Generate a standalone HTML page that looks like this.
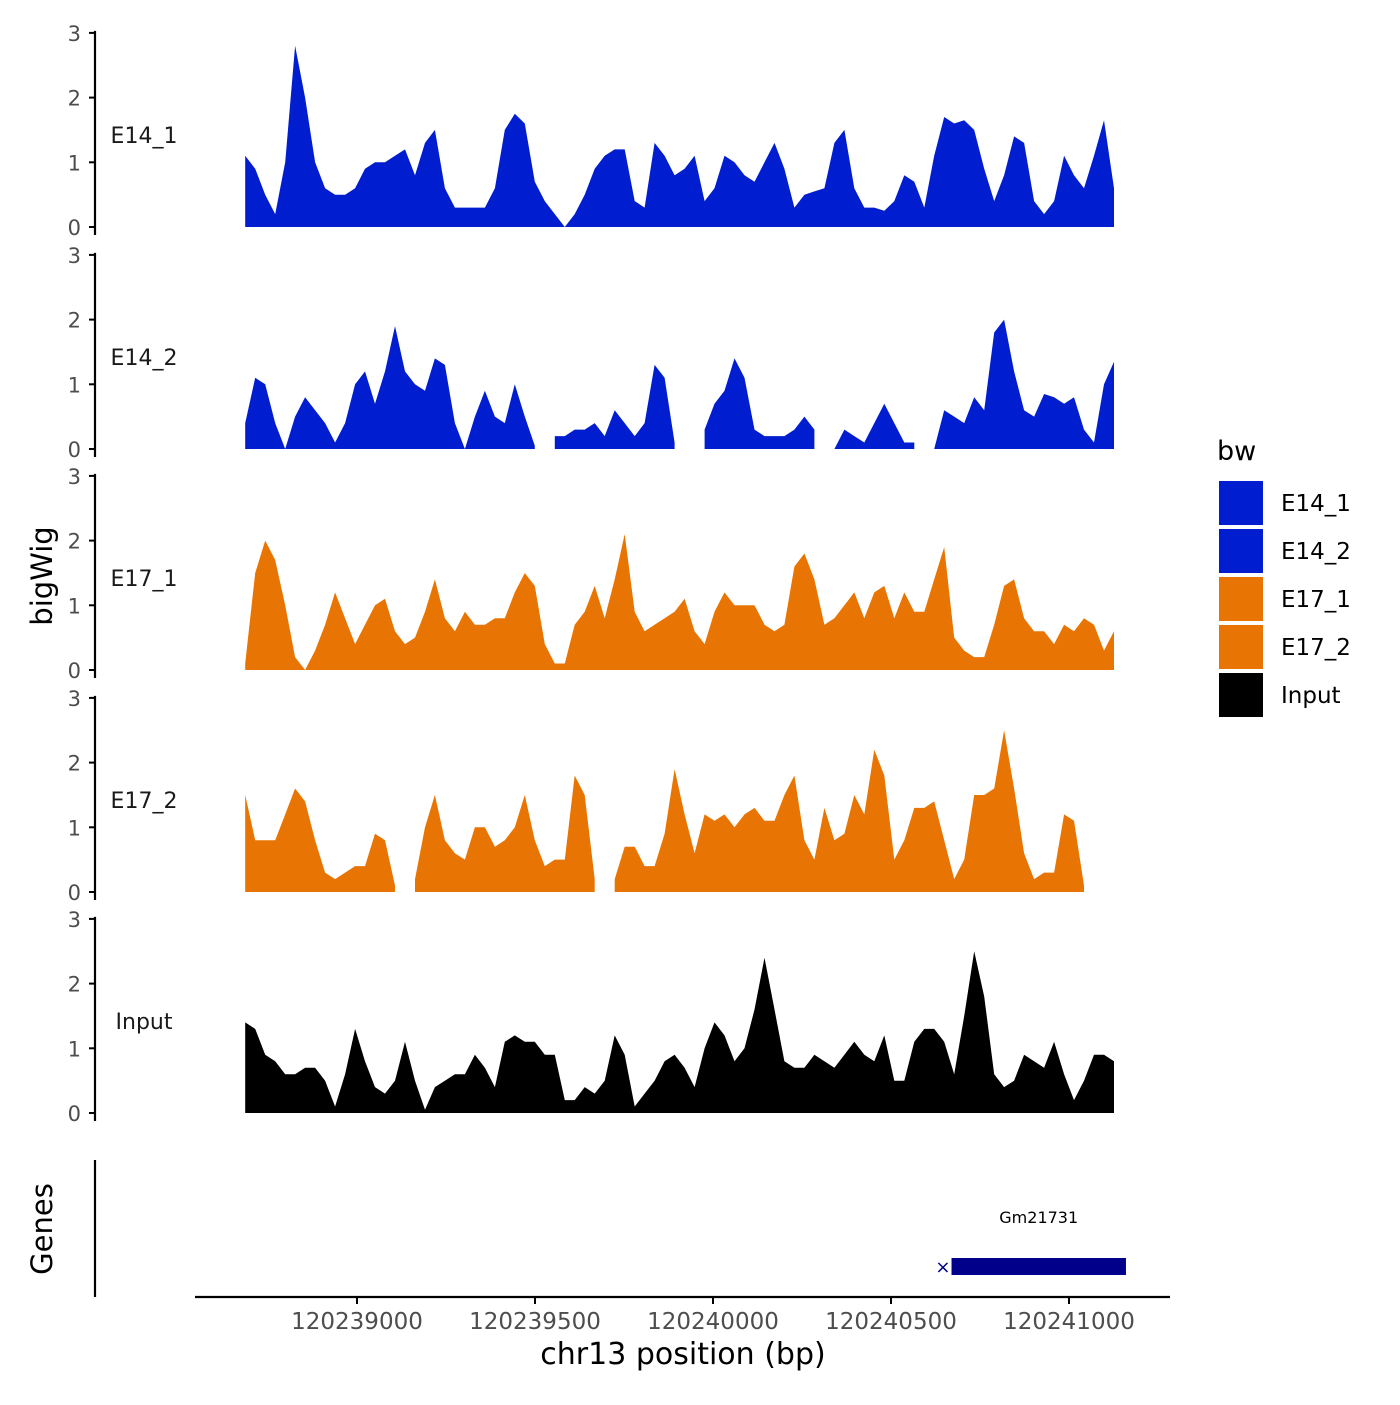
<!DOCTYPE html>
<html><head><meta charset="utf-8"><style>
html,body{margin:0;padding:0;background:#fff;}
svg text{font-family:"DejaVu Sans","Liberation Sans",sans-serif;}
</style></head><body>
<svg id="chart" width="1400" height="1400" viewBox="0 0 1400 1400" xmlns="http://www.w3.org/2000/svg">
<g id="tracks"></g>
<g id="axes"></g>
<g id="legend">
<text x="1217" y="460" font-size="27" fill="#000">bw</text>
</g>
</svg>
<script>
const trackNames = ["E14_1","E14_2","E17_1","E17_2","Input"];
const trackColors = ["#001ecf","#001ecf","#e87503","#e87503","#000000"];
const binStart = 120238686;
const binStep = 28.05;
const xTicks = [120239000,120239500,120240000,120240500,120241000];
const yTicks = [0,1,2,3];
const E14_1 = [1.1,0.9,0.5,0.2,1.0,2.8,2.0,1.0,0.6,0.5,0.5,0.6,0.9,1.0,1.0,1.1,1.2,0.8,1.3,1.5,0.6,0.3,0.3,0.3,0.3,0.6,1.5,1.75,1.6,0.7,0.4,0.2,0.0,0.2,0.5,0.9,1.1,1.2,1.2,0.4,0.3,1.3,1.1,0.8,0.9,1.1,0.4,0.6,1.1,1.0,0.8,0.7,1.0,1.3,0.9,0.3,0.5,0.55,0.6,1.3,1.5,0.6,0.3,0.3,0.25,0.4,0.8,0.7,0.3,1.1,1.7,1.6,1.65,1.5,0.9,0.4,0.8,1.4,1.3,0.4,0.2,0.4,1.1,0.8,0.6,1.1,1.65,0.6];
const E14_2 = [0.4,1.1,1.0,0.4,0.0,0.5,0.8,0.6,0.4,0.1,0.4,1.0,1.2,0.7,1.2,1.9,1.2,1.0,0.9,1.4,1.3,0.4,0.0,0.5,0.9,0.5,0.4,1.0,0.5,0.05,null,0.2,0.2,0.3,0.3,0.4,0.2,0.6,0.4,0.2,0.4,1.3,1.1,0.1,null,null,0.3,0.7,0.9,1.4,1.1,0.3,0.2,0.2,0.2,0.3,0.5,0.3,null,0.0,0.3,0.2,0.1,0.4,0.7,0.4,0.1,0.1,null,0.0,0.6,0.5,0.4,0.8,0.6,1.8,2.0,1.2,0.6,0.5,0.85,0.8,0.7,0.8,0.3,0.1,1.0,1.35];
const E17_1 = [0.1,1.5,2.0,1.7,1.0,0.2,0.0,0.3,0.7,1.2,0.8,0.4,0.7,1.0,1.1,0.6,0.4,0.5,0.9,1.4,0.8,0.6,0.9,0.7,0.7,0.8,0.8,1.2,1.5,1.3,0.4,0.1,0.1,0.7,0.9,1.3,0.8,1.4,2.1,0.9,0.6,0.7,0.8,0.9,1.1,0.6,0.4,0.9,1.2,1.0,1.0,1.0,0.7,0.6,0.7,1.6,1.8,1.4,0.7,0.8,1.0,1.2,0.8,1.2,1.3,0.8,1.2,0.9,0.9,1.4,1.9,0.5,0.3,0.2,0.2,0.7,1.3,1.4,0.8,0.6,0.6,0.4,0.7,0.6,0.8,0.7,0.3,0.6];
const E17_2 = [1.5,0.8,0.8,0.8,1.2,1.6,1.4,0.8,0.3,0.2,0.3,0.4,0.4,0.9,0.8,0.1,null,0.2,1.0,1.5,0.8,0.6,0.5,1.0,1.0,0.7,0.8,1.0,1.5,0.8,0.4,0.5,0.5,1.8,1.5,0.2,null,0.2,0.7,0.7,0.4,0.4,0.9,1.9,1.2,0.6,1.2,1.1,1.2,1.0,1.2,1.3,1.1,1.1,1.5,1.8,0.8,0.5,1.3,0.8,0.9,1.5,1.2,2.2,1.8,0.5,0.8,1.3,1.3,1.4,0.8,0.2,0.5,1.5,1.5,1.6,2.5,1.6,0.6,0.2,0.3,0.3,1.2,1.1,0.1,null,null,0.1];
const Input = [1.4,1.3,0.9,0.8,0.6,0.6,0.7,0.7,0.5,0.1,0.6,1.3,0.8,0.4,0.3,0.5,1.1,0.5,0.05,0.4,0.5,0.6,0.6,0.9,0.7,0.4,1.1,1.2,1.1,1.1,0.9,0.9,0.2,0.2,0.4,0.3,0.5,1.2,0.9,0.1,0.3,0.5,0.8,0.9,0.7,0.4,1.0,1.4,1.2,0.8,1.0,1.6,2.4,1.6,0.8,0.7,0.7,0.9,0.8,0.7,0.9,1.1,0.9,0.8,1.2,0.5,0.5,1.1,1.3,1.3,1.1,0.6,1.5,2.5,1.8,0.6,0.4,0.5,0.9,0.8,0.7,1.1,0.6,0.2,0.5,0.9,0.9,0.8];
const series = [E14_1,E14_2,E17_1,E17_2,Input];
const geneName = "Gm21731";
const geneStart = 120240670;
const geneEnd = 120241160;

const NS="http://www.w3.org/2000/svg";
function xs(bp){return 357 + (bp-120239000)*(713-357)/1000;}
const trackZero=[227,449,670,892,1113];
const unitPx=64.7;
function ys(t,v){return trackZero[t]-v*unitPx;}
function mk(tag,attrs,parent){const e=document.createElementNS(NS,tag);for(const k in attrs)e.setAttribute(k,attrs[k]);parent.appendChild(e);return e;}
const tracksG=document.getElementById('tracks');
const axesG=document.getElementById('axes');
const legendG=document.getElementById('legend');

series.forEach((vals,t)=>{
  let d="";let run=[];
  const flush=()=>{ if(run.length){ d+=`M${run[0][0]},${trackZero[t]}`; run.forEach(p=>d+=`L${p[0]},${p[1]}`); d+=`L${run[run.length-1][0]},${trackZero[t]}Z`; run=[];} };
  vals.forEach((v,i)=>{
    const x=xs(binStart+i*binStep);
    if(v===null){flush();} else run.push([x.toFixed(1),ys(t,v).toFixed(1)]);
  });
  flush();
  const p=mk('path',{d:d,fill:trackColors[t]},tracksG);
  
  
  const ax=mk('line',{x1:95,x2:95,y1:ys(t,3)-2,y2:trackZero[t]+8,stroke:'#000','stroke-width':2.2},axesG);
  
  
  yTicks.forEach(v=>{
    const tk=mk('line',{x1:89,x2:95,y1:ys(t,v),y2:ys(t,v),stroke:'#000','stroke-width':2},axesG);
    
    
    const tl=mk('text',{x:81,y:ys(t,v)+8,'text-anchor':'end','font-size':21,fill:'#4d4d4d'},axesG);
    tl.textContent=v;
    
    
  });
  const lb=mk('text',{x:144,y:trackZero[t]-84,'text-anchor':'middle','font-size':22,fill:'#1a1a1a'},axesG);
  lb.textContent=trackNames[t];
  
  
  const ky=481+t*48;
  const r=mk('rect',{x:1219,y:ky,width:44,height:44,fill:trackColors[t]},legendG);
  
  
  const lt=mk('text',{x:1281,y:ky+30,'font-size':23,fill:'#000'},legendG);
  lt.textContent=trackNames[t];
  
  
});

const gAx=mk('line',{x1:95,x2:95,y1:1160,y2:1297,stroke:'#000','stroke-width':2.2},axesG);


const gene=mk('rect',{x:xs(geneStart),y:1258,width:xs(geneEnd)-xs(geneStart),height:17,fill:'#00008b'},tracksG);


const gx=mk('text',{x:xs(geneStart)-1,y:1273,'text-anchor':'end','font-size':18,fill:'#00008b'},tracksG);
gx.textContent='×';


const gl=mk('text',{x:(xs(geneStart)+xs(geneEnd))/2,y:1223,'text-anchor':'middle','font-size':16,fill:'#000'},tracksG);
gl.textContent=geneName;



const xa=mk('line',{x1:195,x2:1170,y1:1297,y2:1297,stroke:'#000','stroke-width':2.2},axesG);


xTicks.forEach(b=>{
  const tk=mk('line',{x1:xs(b),x2:xs(b),y1:1297,y2:1304,stroke:'#000','stroke-width':2},axesG);
  
  
  const tl=mk('text',{x:xs(b),y:1329,'text-anchor':'middle','font-size':23,fill:'#4d4d4d'},axesG);
  tl.textContent=b;
  
  
});
const xt=mk('text',{x:683,y:1364,'text-anchor':'middle','font-size':30,fill:'#000'},axesG);
xt.textContent='chr13 position (bp)';


const yt=mk('text',{x:0,y:0,'text-anchor':'middle','font-size':29,fill:'#000',transform:'translate(52,576) rotate(-90)'},axesG);
yt.textContent='bigWig';


const gt=mk('text',{x:0,y:0,'text-anchor':'middle','font-size':29,fill:'#000',transform:'translate(52,1229) rotate(-90)'},axesG);
gt.textContent='Genes';


</script>
</body></html>
